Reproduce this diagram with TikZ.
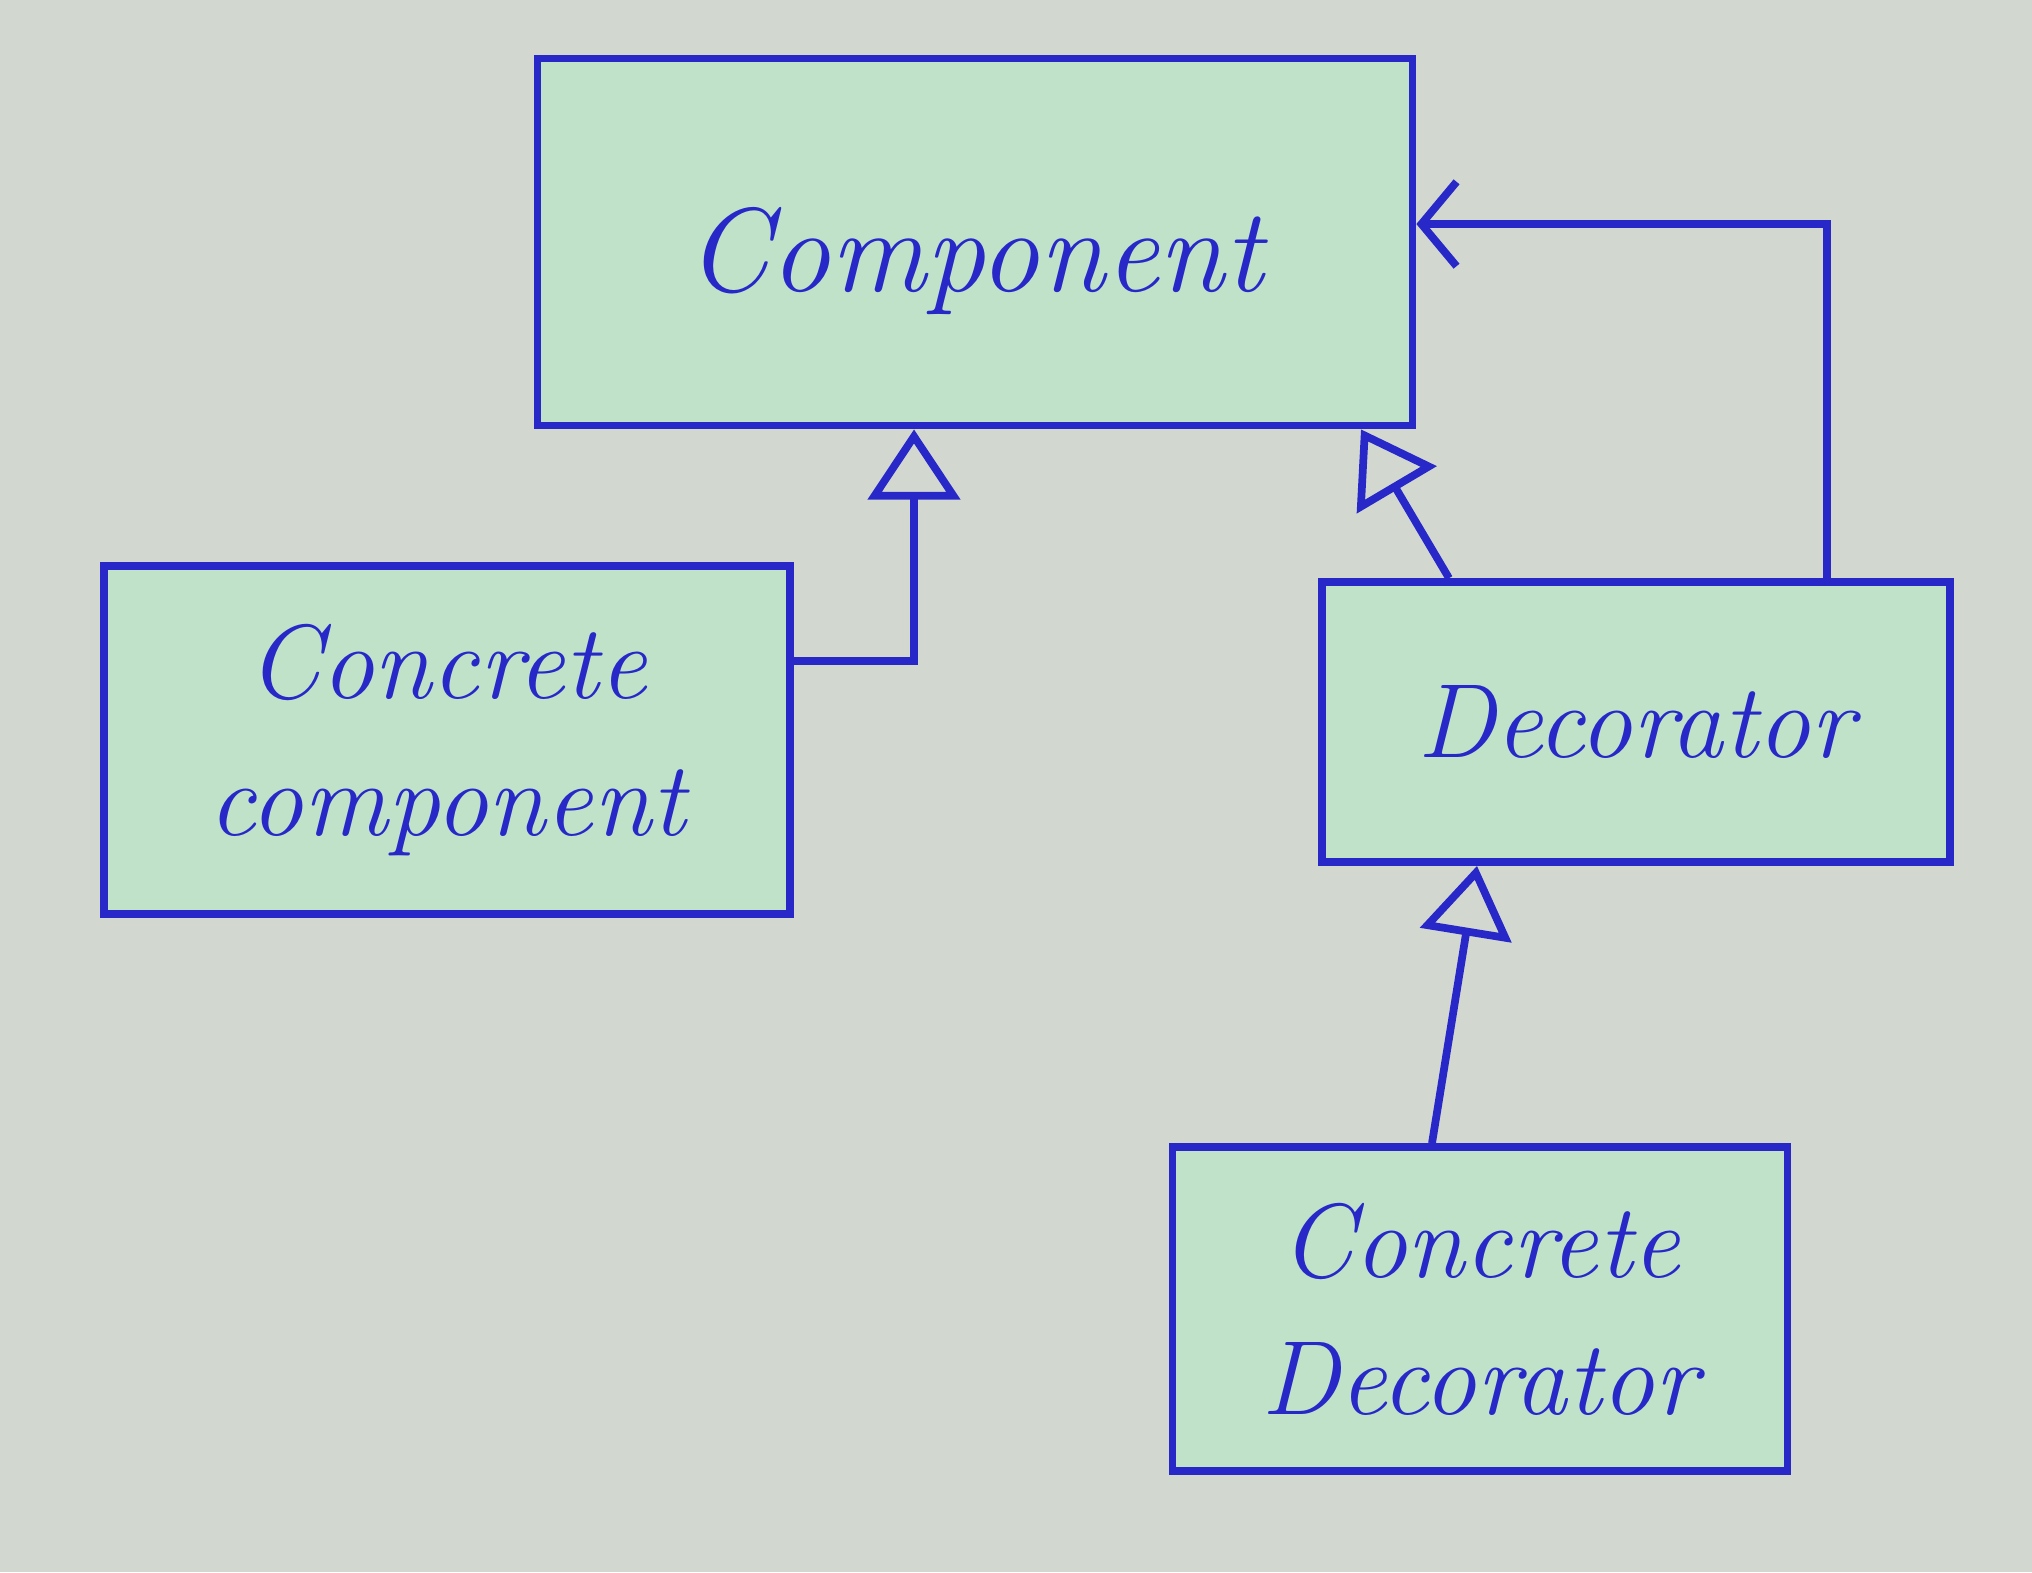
\documentclass[tikz,border=0pt]{standalone}
\usetikzlibrary{arrows.meta}
\definecolor{ink}{RGB}{40,40,200}
\definecolor{paper}{RGB}{210,216,208}
\definecolor{mint}{RGB}{192,226,200}
\begin{document}
\begin{tikzpicture}[
    klasse/.style={draw=ink, fill=mint, line width=2.2pt, text=ink, align=center,
      font=\itshape\fontsize{30}{39}\selectfont},
    erbt/.style={draw=ink, line width=2.2pt,
      -{Triangle[open, fill=paper, length=20pt, width=26pt]}},
    hat/.style={draw=ink, line width=2.2pt, -{Straight Barb[length=10pt, width=24pt]}}
  ]
    \fill[paper] (0,0) rectangle (20.32,-15.72);
    \useasboundingbox (0,0) rectangle (20.32,-15.72);
    % Klassen
    \node[klasse, minimum width=8.75cm, minimum height=3.67cm, text height=35pt, text depth=7pt,
      font=\itshape\fontsize{34}{40}\selectfont] (comp) at (9.75,-2.42) {Component};
    \node[klasse, minimum width=6.86cm, minimum height=3.48cm] (cc) at (4.47,-7.40) {Concrete\\component};
    \node[klasse, minimum width=6.28cm, minimum height=2.80cm] (dec) at (16.36,-7.22) {Decorator};
    \node[klasse, minimum width=6.15cm, minimum height=3.24cm] (cd) at (14.80,-13.09) {Concrete\\Decorator};
    % Beziehungen
    \draw[erbt] ([yshift=0.79cm]cc.east) -| ([xshift=-0.61cm]comp.south);
    \draw[erbt] ([xshift=-1.87cm]dec.north) -- ([xshift=3.86cm]comp.south);
    \draw[hat] ([xshift=1.91cm]dec.north) |- ([yshift=0.18cm]comp.east);
    \draw[erbt] ([xshift=-0.48cm]cd.north) -- ([xshift=-1.59cm]dec.south);
  \end{tikzpicture}
\end{document}
